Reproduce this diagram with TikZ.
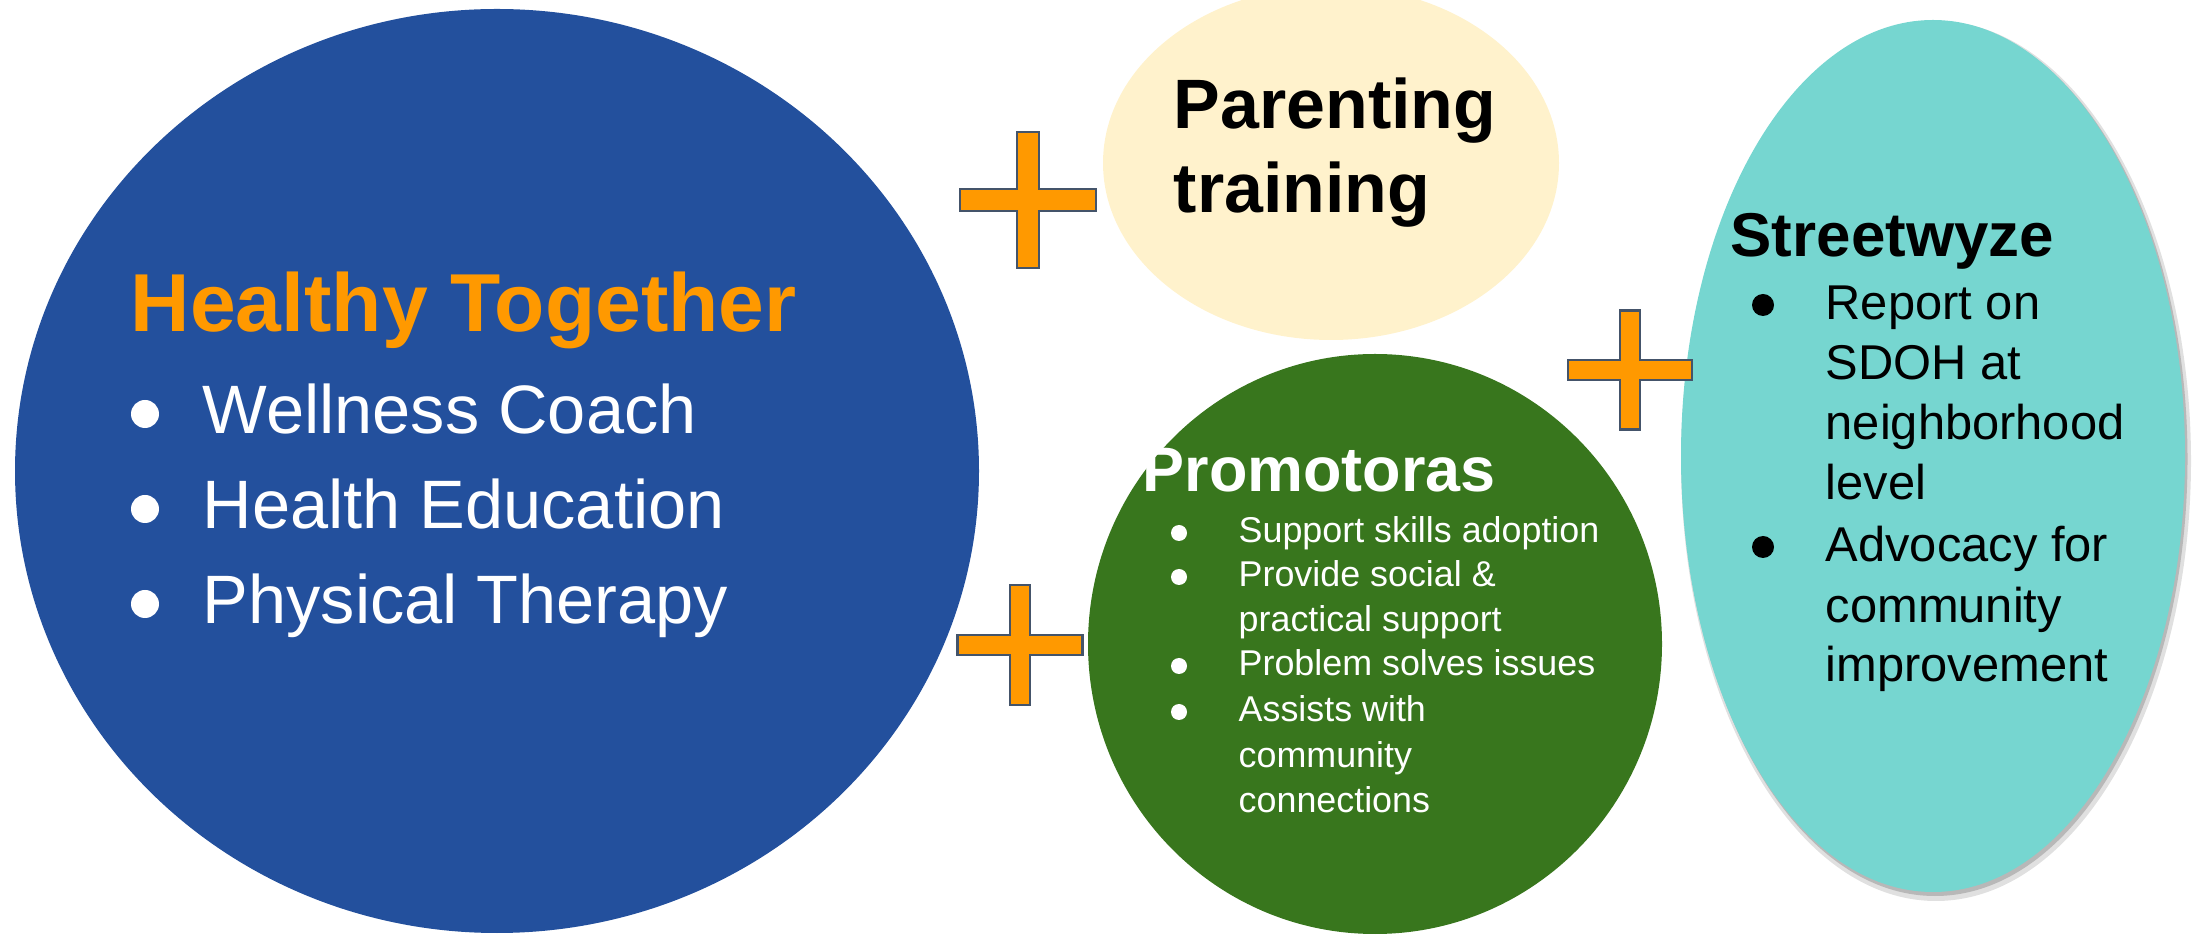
\documentclass[tikz,border=0pt]{standalone}
\usepackage{fontspec}
\setmainfont{Liberation Sans}
\usetikzlibrary{shapes.geometric}
\definecolor{htblue}{RGB}{35,80,157}
\definecolor{htorange}{RGB}{255,153,0}
\definecolor{ptyellow}{RGB}{255,242,204}
\definecolor{prgreen}{RGB}{56,118,29}
\definecolor{swteal}{RGB}{118,214,208}
\definecolor{plusline}{RGB}{68,84,106}
\tikzset{%
  % Specifications for style of nodes:
            base/.style = {ellipse, inner sep=0pt, draw=none},
       bluebox/.style = {base, fill=htblue, minimum width=9.64cm, minimum height=9.24cm},
       yellowbox/.style = {base, fill=ptyellow, minimum width=4.56cm, minimum height=3.54cm},
       greenbox/.style = {base, fill=prgreen, minimum width=5.74cm, minimum height=5.80cm},
       tealbox/.style = {base, fill=swteal, minimum width=5.04cm, minimum height=8.72cm},
       shadowbox/.style = {base, fill=black!12, minimum width=5.10cm, minimum height=8.80cm}, %soft edge
       shadowcore/.style = {base, fill=black!28, minimum width=5.05cm, minimum height=8.74cm},
       headline/.style = {inner sep=0pt, anchor=base west},
       listline/.style = {inner sep=0pt, anchor=base west},
       bulletdot/.style = {circle, inner sep=0pt, draw=none},
       plussign/.style = {fill=htorange, draw=plusline, line width=0.6pt},
  % text styles
       bluehead/.style = {headline, text=htorange, font=\bfseries\fontsize{23.4}{28}\selectfont},
       bluetext/.style = {listline, text=white, font=\fontsize{19.5}{23}\selectfont},
       bluedot/.style = {bulletdot, fill=white, minimum size=0.28cm},
       yellowhead/.style = {headline, text=black, font=\bfseries\fontsize{19.9}{24}\selectfont},
       greenhead/.style = {headline, text=white, font=\bfseries\fontsize{17.9}{21}\selectfont},
       greentext/.style = {listline, text=white, font=\fontsize{10.2}{12}\selectfont},
       greendot/.style = {bulletdot, fill=white, minimum size=0.16cm},
       tealhead/.style = {headline, text=black, font=\bfseries\fontsize{17.6}{21}\selectfont},
       tealtext/.style = {listline, text=black, font=\fontsize{13.9}{17}\selectfont},
       tealdot/.style = {bulletdot, fill=black, minimum size=0.22cm},
}
\begin{document}
\begin{tikzpicture}
  \clip (0,0) rectangle (21.99,9.35);
  % Specification of nodes (position, etc.)

  \node (healthy)			[bluebox] at (4.97,4.64) {};
  \node (parenting)			[yellowbox] at (13.31,7.72) {};
  \node (promotoras)			[greenbox] at (13.75,2.91) {};
  \node (streetshadow)			[shadowbox] at (19.36,4.74) {};
  \node (streetcore)			[shadowcore] at (19.35,4.76) {};
  \node (streetwyze)			[tealbox] at (19.33,4.79) {};

  % Healthy Together
  \node (htname)			[bluehead] at (1.30,6.03) {Healthy Together};
  \node (htdota)			[bluedot] at (1.45,5.21) {};
  \node (htdotb)			[bluedot] at (1.45,4.26) {};
  \node (htdotc)			[bluedot] at (1.45,3.31) {};
  \node (coach)			[bluetext] at (2.02,5.01) {Wellness Coach};
  \node (education)			[bluetext] at (2.02,4.06) {Health Education};
  \node (therapy)			[bluetext] at (2.02,3.11) {Physical Therapy};

  % Parenting training
  \node (ptnamea)			[yellowhead] at (11.73,8.06) {Parenting};
  \node (ptnameb)			[yellowhead] at (11.73,7.22) {training};

  % Promotoras
  \node (prname)			[greenhead] at (11.42,4.43) {Promotoras};
  \node (prdota)			[greendot] at (11.79,4.02) {};
  \node (prdotb)			[greendot] at (11.79,3.58) {};
  \node (prdotc)			[greendot] at (11.79,2.69) {};
  \node (prdotd)			[greendot] at (11.79,2.23) {};
  \node (skills)			[greentext] at (12.38,3.92) {Support skills adoption};
  \node (socialsup)			[greentext] at (12.38,3.48) {Provide social \&};
  \node (practsup)			[greentext] at (12.38,3.03) {practical support};
  \node (problems)			[greentext] at (12.38,2.59) {Problem solves issues};
  \node (assists)			[greentext] at (12.38,2.13) {Assists with};
  \node (prcommunity)			[greentext] at (12.38,1.68) {community};
  \node (connections)			[greentext] at (12.38,1.23) {connections};

  % Streetwyze
  \node (swname)			[tealhead] at (17.30,6.78) {Streetwyze};
  \node (swdota)			[tealdot] at (17.63,6.30) {};
  \node (swdotb)			[tealdot] at (17.63,3.88) {};
  \node (report)			[tealtext] at (18.25,6.15) {Report on};
  \node (sdoh)			[tealtext] at (18.25,5.55) {SDOH at};
  \node (neighborhood)			[tealtext] at (18.25,4.95) {neighborhood};
  \node (level)			[tealtext] at (18.25,4.35) {level};
  \node (advocacy)			[tealtext] at (18.25,3.73) {Advocacy for};
  \node (swcommunity)			[tealtext] at (18.25,3.12) {community};
  \node (improvement)			[tealtext] at (18.25,2.53) {improvement};

  % plus signs
  \coordinate (plusa) at (10.28,7.35);
  \coordinate (plusb) at (10.20,2.90);
  \coordinate (plusc) at (16.30,5.65);

 \draw[plussign]		(plusa)++(-0.68,0.11)-- ++(0.57,0.)-- ++(0.,0.57)-- ++(0.22,0.)-- ++(0.,-0.57)-- ++(0.57,0.)--
  ++(0.,-0.22)-- ++(-0.57,0.)-- ++(0.,-0.57)-- ++(-0.22,0.)-- ++(0.,0.57)-- ++(-0.57,0.)-- cycle;
 \draw[plussign]		(plusb)++(-0.625,0.10)-- ++(0.525,0.)-- ++(0.,0.50)-- ++(0.20,0.)-- ++(0.,-0.50)-- ++(0.525,0.)--
  ++(0.,-0.20)-- ++(-0.525,0.)-- ++(0.,-0.50)-- ++(-0.20,0.)-- ++(0.,0.50)-- ++(-0.525,0.)-- cycle;
 \draw[plussign]		(plusc)++(-0.62,0.10)-- ++(0.52,0.)-- ++(0.,0.495)-- ++(0.20,0.)-- ++(0.,-0.495)-- ++(0.52,0.)--
  ++(0.,-0.20)-- ++(-0.52,0.)-- ++(0.,-0.495)-- ++(-0.20,0.)-- ++(0.,0.495)-- ++(-0.52,0.)-- cycle;

\end{tikzpicture}
\end{document}
